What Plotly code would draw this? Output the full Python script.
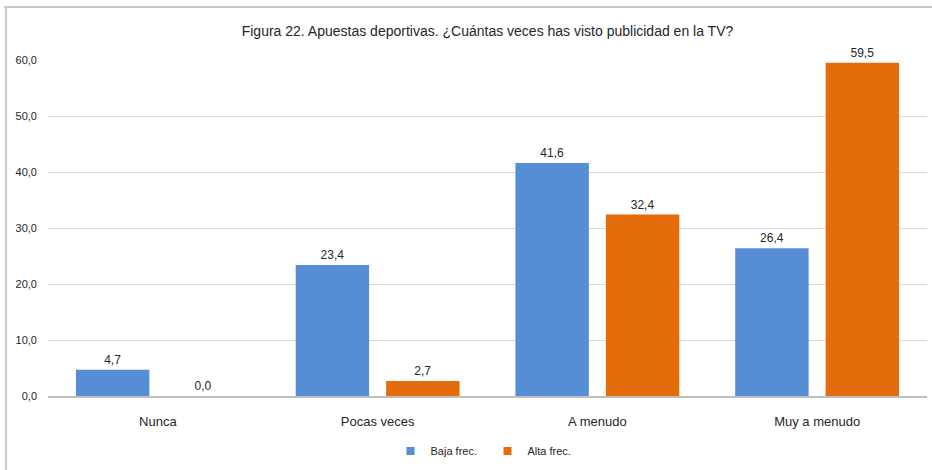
import plotly.graph_objects as go

categories = ["Nunca", "Pocas veces", "A menudo", "Muy a menudo"]
baja_frec = [4.7, 23.4, 41.6, 26.4]
alta_frec = [0.0, 2.7, 32.4, 59.5]
series_names = ["Baja frec.", "Alta frec."]
y_ticks = [0, 10, 20, 30, 40, 50, 60]
title_text = "Figura 22. Apuestas deportivas. ¿Cuántas veces has visto publicidad en la TV?"

FONT = "Liberation Sans, Arial, sans-serif"
BLUE = "#558ED5"
ORANGE = "#E46C0A"

fig = go.Figure()
for name, vals, col in [(series_names[0], baja_frec, BLUE), (series_names[1], alta_frec, ORANGE)]:
    fig.add_trace(go.Bar(
        x=categories, y=vals, name=name, showlegend=False,
        marker=dict(color=col, line=dict(width=0)),
        texttemplate="%{y:.1f}", textposition="outside",
        textfont=dict(family=FONT, size=12, color="#262626"),
        cliponaxis=False,
    ))
    # small square legend keys
    fig.add_trace(go.Scatter(
        x=[None], y=[None], mode="markers", name=name,
        marker=dict(symbol="square", size=8, color=col),
    ))

W, H = 932, 470
ml, mr, mt, mb = 48, 5, 60, 74
pw = W - ml - mr
ph = H - mt - mb

def px_x(p):
    return (p - ml) / pw

def px_y(p):
    return (H - mb - p) / ph

fig.update_layout(
    width=W, height=H,
    margin=dict(l=ml, r=mr, t=mt, b=mb, pad=0),
    paper_bgcolor="white", plot_bgcolor="white",
    separators=",.",
    barmode="group", bargap=0.177, bargroupgap=0.188,
    font=dict(family=FONT, color="#262626"),
    title=dict(text=title_text, x=0.5, xanchor="center", xref="paper",
               y=1 - 31 / H, yanchor="middle", yref="container",
               font=dict(family=FONT, size=14, color="#262626")),
    xaxis=dict(showgrid=False, showline=True, linecolor="#BFBFBF", linewidth=2,
               ticks="", tickfont=dict(family=FONT, size=13, color="#262626"),
               ticklabelstandoff=12),
    yaxis=dict(range=[0, 60], tickvals=y_ticks, tickformat=".1f",
               showgrid=True, gridcolor="#D9D9D9", gridwidth=1,
               zeroline=False, showline=False, ticks="",
               tickfont=dict(family=FONT, size=11, color="#262626"),
               ticklabelstandoff=10),
    legend=dict(orientation="h", x=0.5, xanchor="center", y=px_y(451), yanchor="middle",
                font=dict(family=FONT, size=11, color="#262626"),
                itemwidth=30, traceorder="normal",
                entrywidth=52, entrywidthmode="pixels"),
    showlegend=True,
)

# chart frame (top and left edges)
fig.add_shape(type="line", xref="paper", yref="paper",
              x0=px_x(4), x1=px_x(935), y0=px_y(7), y1=px_y(7),
              line=dict(color="#C8C8C8", width=2), layer="above")
fig.add_shape(type="line", xref="paper", yref="paper",
              x0=px_x(6), x1=px_x(6), y0=px_y(7), y1=px_y(475),
              line=dict(color="#C8C8C8", width=2), layer="above")

fig.write_html("out.html")
